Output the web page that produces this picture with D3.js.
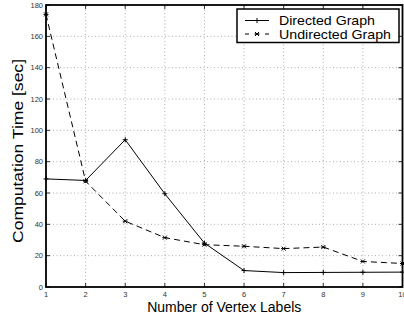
<!DOCTYPE html>
<html>
<head>
<meta charset="utf-8">
<script src="https://cdn.jsdelivr.net/npm/d3@7"></script>
<style>
  body { margin: 0; background: #fff; }
  text { font-family: "Liberation Sans", Arial, sans-serif; }
</style>
</head>
<body>
<div id="chart"></div>
<script>
// data
let labels = [1, 2, 3, 4, 5, 6, 7, 8, 9, 10];
let directed = [69, 68, 94, 59.5, 28, 10.5, 9.2, 9.3, 9.4, 9.5];
let undirected = [174, 67.5, 42, 31.5, 27, 26, 24.5, 25.5, 16.3, 15];
let yTicks = [0, 20, 40, 60, 80, 100, 120, 140, 160, 180];
let seriesNames = ['Directed Graph', 'Undirected Graph'];

let W = 404, H = 320;
let m = {l: 46, r: 1.5, t: 5, b: 33};
let svg = d3.select('#chart').append('svg').attr('width', W).attr('height', H);

let x = d3.scaleLinear().domain([1, 10]).range([m.l, W - m.r]);
let y = d3.scaleLinear().domain([0, 180]).range([H - m.b, m.t]);

// grid
let grid = svg.append('g').attr('stroke', '#999').attr('stroke-width', 0.8).attr('stroke-dasharray', '1,2.5');
grid.selectAll('line.gx').data(labels.slice(1, -1)).enter().append('line')
	.attr('x1', d => x(d)).attr('x2', d => x(d)).attr('y1', y(0)).attr('y2', y(180));
grid.selectAll('line.gy').data(yTicks.slice(1, -1)).enter().append('line')
	.attr('x1', x(1)).attr('x2', x(10)).attr('y1', d => y(d)).attr('y2', d => y(d));

// ticks (inside)
let tk = svg.append('g').attr('stroke', '#000').attr('stroke-width', 0.8);
labels.forEach(d => {
	tk.append('line').attr('x1', x(d)).attr('x2', x(d)).attr('y1', y(0)).attr('y2', y(0) - 4);
	tk.append('line').attr('x1', x(d)).attr('x2', x(d)).attr('y1', y(180)).attr('y2', y(180) + 4);
});
yTicks.forEach(d => {
	tk.append('line').attr('x1', x(1)).attr('x2', x(1) + 4).attr('y1', y(d)).attr('y2', y(d));
	tk.append('line').attr('x1', x(10)).attr('x2', x(10) - 4).attr('y1', y(d)).attr('y2', y(d));
});

// tick labels
svg.append('g').selectAll('text').data(labels).enter().append('text')
	.attr('x', d => x(d)).attr('y', y(0) + 9.5).attr('text-anchor', 'middle')
	.attr('font-size', 7.5).attr('fill', '#333').text(d => d);
svg.append('g').selectAll('text').data(yTicks).enter().append('text')
	.attr('x', x(1) - 3).attr('y', d => y(d) + 2.5).attr('text-anchor', 'end')
	.attr('font-size', 7.5).attr('fill', '#333').text(d => d);

// lines
let line = d3.line().x((d, i) => x(labels[i])).y(d => y(d));
svg.append('path').attr('d', line(directed)).attr('fill', 'none').attr('stroke', '#000').attr('stroke-width', 1);
svg.append('path').attr('d', line(undirected)).attr('fill', 'none').attr('stroke', '#000').attr('stroke-width', 1)
	.attr('stroke-dasharray', '6,4');

// markers
function plus(g, cx, cy) {
	g.append('path').attr('d', `M${cx - 2.5},${cy}H${cx + 2.5}M${cx},${cy - 2.5}V${cy + 2.5}`)
		.attr('stroke', '#000').attr('stroke-width', 1);
}
function star(g, cx, cy) {
	g.append('path').attr('d', `M${cx - 2},${cy - 2}L${cx + 2},${cy + 2}M${cx - 2},${cy + 2}L${cx + 2},${cy - 2}M${cx - 2.5},${cy}H${cx + 2.5}`)
		.attr('stroke', '#000').attr('stroke-width', 1);
}
let mk = svg.append('g');
directed.forEach((d, i) => plus(mk, x(labels[i]), y(d)));
undirected.forEach((d, i) => star(mk, x(labels[i]), y(d)));

// frame
svg.append('rect').attr('x', x(1)).attr('y', y(180)).attr('width', x(10) - x(1)).attr('height', y(0) - y(180))
	.attr('fill', 'none').attr('stroke', '#000').attr('stroke-width', 1.8);

// legend
let lg = svg.append('g');
lg.append('rect').attr('x', 237).attr('y', 9).attr('width', 162).attr('height', 33.5)
	.attr('fill', '#fff').attr('stroke', '#000').attr('stroke-width', 1.5);
lg.append('line').attr('x1', 245).attr('x2', 269).attr('y1', 20.5).attr('y2', 20.5).attr('stroke', '#000');
plus(lg, 257, 20.5);
lg.append('line').attr('x1', 245).attr('x2', 269).attr('y1', 34).attr('y2', 34).attr('stroke', '#000')
	.attr('stroke-dasharray', '4,6').attr('stroke-dashoffset', 0);
star(lg, 257, 34);
lg.append('text').attr('x', 279).attr('y', 25).attr('font-size', 13)
	.attr('textLength', 96).attr('lengthAdjust', 'spacingAndGlyphs').text(seriesNames[0]);
lg.append('text').attr('x', 279).attr('y', 39).attr('font-size', 13)
	.attr('textLength', 112).attr('lengthAdjust', 'spacingAndGlyphs').text(seriesNames[1]);

// axis labels
svg.append('text').attr('x', (x(1) + x(10)) / 2).attr('y', 311.5).attr('text-anchor', 'middle')
	.attr('font-size', 14).text('Number of Vertex Labels');
svg.append('text').attr('transform', `translate(22.5,151) rotate(-90)`)
	.attr('text-anchor', 'middle').attr('font-size', 14)
	.attr('textLength', 184).attr('lengthAdjust', 'spacingAndGlyphs').text('Computation Time [sec]');
</script>
</body>
</html>
